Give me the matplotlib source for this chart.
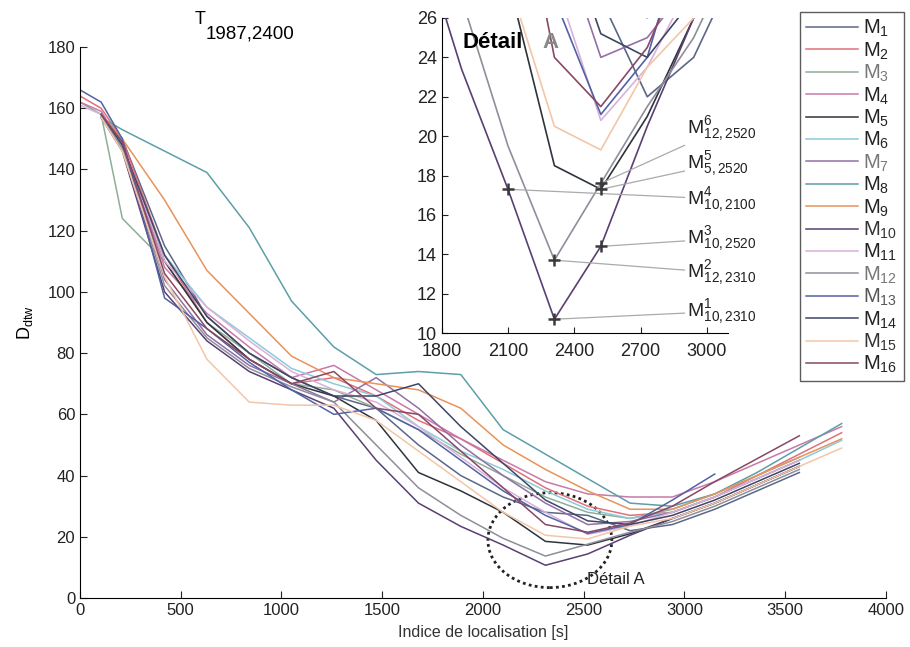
import numpy as np
import matplotlib
matplotlib.use('Agg')
import matplotlib.pyplot as plt
from matplotlib.patches import Ellipse

plt.rcParams['font.family'] = ['Liberation Sans', 'DejaVu Sans']
plt.rcParams['mathtext.fontset'] = 'custom'
plt.rcParams['mathtext.rm'] = 'Liberation Sans'
plt.rcParams['mathtext.it'] = 'Liberation Sans'
plt.rcParams['mathtext.bf'] = 'Liberation Sans:bold'

nan = np.nan

# sample positions (s)
x_pos = [0, 105, 210, 420, 630, 840, 1050, 1260, 1470, 1680, 1890,
         2100, 2310, 2520, 2730, 2940, 3150, 3360, 3570, 3780, 3990]

# D_dtw for each model M1..M16
m1 = [nan, 158, 150, 115, 92, 80, 72, 66, 62, 50, 40, 33, 28, 27, 22, 24, 29, 35, 41, nan, nan]
m2 = [164, 160, 150, 112, 90, 78, 70, 72, 66, 58, 52, 44, 36, 30, 27, 28, 33, 40, 47, 54, nan]
m3 = [162, 158, 124, 110, 90, 80, 70, 68, 62, 55, 47, 40, 33, 28, 26, 29, 34, 40, 46, nan, nan]
m4 = [162, 159, 148, 108, 93, 82, 72, 76, 68, 60, 52, 45, 38, 34, 33, 33, 38, 44, 50, 56, nan]
m5 = [nan, 157, 148, 110, 90, 78, 70, 66, 58, 41, 35, 28, 18.5, 17.3, 21, 26, 31, 37, 43, nan, nan]
m6 = [nan, 157, 147, 112, 95, 85, 75, 70, 66, 56, 48, 42, 35, 29, 26, 28, 33, 39, 45, 51.5, nan]
m7 = [nan, 158, 149, 104, 86, 76, 70, 64, 72, 62, 50, 40, 31, 24, 25, 28, 33, 39, 45, nan, nan]
m8 = [nan, 157, 153, 146, 139, 121, 97, 82, 73, 74, 73, 55, 47, 39, 31, 30, 34, 41, 49, 57, nan]
m9 = [nan, 158, 150, 130, 107, 93, 79, 72, 70, 68, 62, 50, 42, 35, 29, 29, 34, 40, 46, 52, nan]
m10 = [nan, 157, 146, 100, 84, 74, 68, 62, 45, 31, 23.4, 17.3, 10.7, 14.4, 20.5, 26, 31, 37, 43, nan, nan]
m11 = [161, 158, 148, 110, 95, 84, 74, 68, 64, 56, 46, 36, 28, 20.8, 23.5, 28, 33, 39, 45, nan, nan]
m12 = [nan, 157, 147, 102, 85, 75, 69, 64, 50, 36, 27, 19.5, 13.7, 17.6, 21.5, 25, 30, 36, 42, nan, nan]
m13 = [166, 162, 150, 98, 88, 77, 68, 60, 62, 55, 45, 35, 27, 21.1, 24, 32, 40.5, nan, nan, nan, nan]
m14 = [nan, 158, 148, 112, 92, 80, 72, 66, 66, 70, 56, 44, 32, 25.2, 24, 27, 32, 38, 44, nan, nan]
m15 = [nan, 157, 146, 105, 78, 64, 63, 63, 58, 48, 38, 28, 20.5, 19.3, 23.5, 26, 31, 37, 43, 49, nan]
m16 = [nan, 158, 149, 106, 88, 78, 70, 74, 62, 60, 48, 36, 24, 21.5, 24.5, 30, 38, 45.5, 53, nan, nan]

series = [m1, m2, m3, m4, m5, m6, m7, m8, m9, m10, m11, m12, m13, m14, m15, m16]
labels = [r'M$_{%d}$' % (i + 1) for i in range(16)]
colors = ['#5b6788', '#e0707a', '#8fae98', '#c77aa8', '#2e343c', '#8ccbd8',
          '#9470a4', '#5d9ea8', '#e8935a', '#5a3f72', '#d9b2d9', '#8e8e9c',
          '#5262a6', '#3f4566', '#f3c6a8', '#874866']
text_colors = ['#222', '#222', '#777', '#222', '#222', '#222', '#777', '#222',
               '#222', '#333', '#222', '#777', '#555', '#222', '#333', '#222']

# annotated minima in detail A: (x, y, label)
pt_x = [2310, 2310, 2520, 2100, 2520, 2520]
pt_y = [10.7, 13.7, 14.4, 17.3, 17.3, 17.6]
pt_lab = [r'M$^{1}_{10,2310}$', r'M$^{2}_{12,2310}$', r'M$^{3}_{10,2520}$',
          r'M$^{4}_{10,2100}$', r'M$^{5}_{5,2520}$', r'M$^{6}_{12,2520}$']
lab_y = [11.1, 13.05, 14.8, 16.8, 18.6, 20.4]

fig = plt.figure(figsize=(9.1, 6.47), dpi=100)
ax = fig.add_axes([0.0879, 0.0757, 0.8857, 0.8516])

lines = []
for s, c in zip(series, colors):
    l, = ax.plot(x_pos, s, color=c, lw=1.1)
    lines.append(l)

ax.set_xlim(0, 4000)
ax.set_ylim(0, 180)
ax.set_xticks(range(0, 4001, 500))
ax.set_yticks(range(0, 181, 20))
ax.spines['top'].set_visible(False)
ax.spines['right'].set_visible(False)
ax.tick_params(direction='in', labelsize=12, length=5, colors='#222')
ax.set_xlabel('Indice de localisation [s]', fontsize=11.5, color='#333', labelpad=5)
ax.set_ylabel(r'D$_{dtw}$', fontsize=13, labelpad=9)

# title T_{1987,2400}
fig.text(195 / 910, 1 - 19 / 647, 'T', fontsize=13, ha='left', va='center')
fig.text(206 / 910, 1 - 34 / 647, '1987,2400', fontsize=13.5, ha='left', va='center')

ell = Ellipse((2332, 18.9), width=615, height=31, fill=False, ls=(0, (1, 1.2)),
              lw=2, color='#222')
ax.add_patch(ell)
ax.text(2515, 6, 'Détail A', fontsize=12, ha='left', va='center', color='#222')

leg = ax.legend(lines, labels, loc='upper left', bbox_to_anchor=(800 / 910, 1 - 12 / 647),
                bbox_transform=fig.transFigure, fontsize=14.5, frameon=True, fancybox=False,
                edgecolor='#333', handlelength=2.6, handletextpad=0.25, labelspacing=0.055,
                borderpad=0.3, borderaxespad=0)
leg.get_frame().set_linewidth(1.0)
for t, c in zip(leg.get_texts(), text_colors):
    t.set_color(c)

# inset: detail A
ins = fig.add_axes([441.7 / 910, 1 - 333 / 647, 286 / 910, 315 / 647])
for s, c in zip(series, colors):
    ins.plot(x_pos, s, color=c, lw=1.2)
ins.set_xlim(1800, 3094)
ins.set_ylim(10, 26)
ins.set_xticks([1800, 2100, 2400, 2700, 3000])
ins.set_yticks(range(10, 27, 2))
ins.spines['top'].set_visible(False)
ins.spines['right'].set_visible(False)
ins.tick_params(direction='in', labelsize=13, length=4, colors='#222')
ins.tick_params(axis='x', pad=7)
ins.patch.set_alpha(0)

for x0, y0, lab, ly in zip(pt_x, pt_y, pt_lab, lab_y):
    ins.plot(x0, y0, marker='+', ms=9, mew=1.8, color='#3a3a3a', zorder=5)
    ins.annotate(lab, xy=(x0, y0), xytext=(2912, ly), fontsize=14, ha='left', va='center',
                 color='#222', annotation_clip=False,
                 arrowprops=dict(arrowstyle='-', color='#aaaaaa', lw=0.9, shrinkA=0, shrinkB=0))

ins.text(1895, 24.75, 'Détail', fontsize=16, fontweight='bold', ha='left', va='center')
ins.text(2255, 24.75, 'A', fontsize=16, fontweight='bold', ha='left', va='center', color='#888')

fig.savefig('out.png', dpi=100)
